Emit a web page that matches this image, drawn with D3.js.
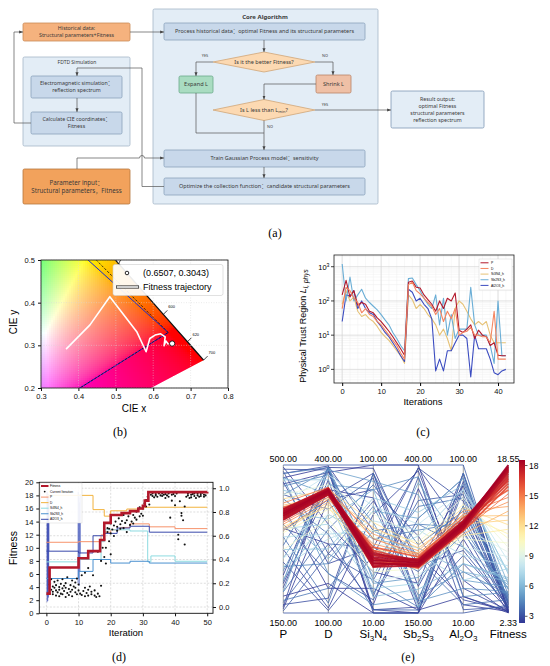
<!DOCTYPE html>
<html><head><meta charset="utf-8">
<script src="https://cdn.jsdelivr.net/npm/d3@7/dist/d3.min.js"></script>
<style>html,body{margin:0;padding:0;background:#fff;}svg{display:block;}</style>
</head><body>
<svg id="fig" width="550" height="666"></svg>
<script>
// ======================= DATA =======================
// (a) flowchart texts
const flowText = {
  hist: ["Historical data:", "Structural parameters+Fitness"],
  fdtd: ["FDTD Simulation"],
  em: ["Electromagnetic simulation：", "reflection spectrum"],
  cie: ["Calculate CIE coordinates：", "Fitness"],
  param: ["Parameter input：", "Structural parameters，Fitness"],
  core: ["Core Algorithm"],
  proc: ["Process historical data：optimal Fitness and its structural parameters"],
  dia1: ["Is it the better Fitness?"],
  expand: ["Expand L"],
  shrink: ["Shrink L"],
  train: ["Train Gaussian Process model：sensitivity"],
  opt: ["Optimize the collection function：candidate structural parameters"],
  result: ["Result output:", "optimal Fitness", "structural parameters", "reflection spectrum"]
};

// (b) CIE 1931 spectral locus [wavelength, x, y]
const spectralLocus = [
  [470,0.1241,0.0578],[480,0.0913,0.1327],[490,0.0454,0.2950],[500,0.0082,0.5384],[510,0.0139,0.7502],
  [520,0.0743,0.8338],[530,0.1547,0.8059],[540,0.2296,0.7543],[550,0.3016,0.6923],[560,0.3731,0.6245],
  [570,0.4441,0.5547],[575,0.4788,0.5202],[580,0.5125,0.4866],[585,0.5448,0.4544],[590,0.5752,0.4242],
  [595,0.6029,0.3965],[600,0.6270,0.3725],[605,0.6482,0.3514],[610,0.6658,0.3340],[615,0.6801,0.3197],
  [620,0.6915,0.3083],[630,0.7079,0.2920],[640,0.7190,0.2809],[650,0.7260,0.2740],[660,0.7300,0.2700],
  [700,0.7347,0.2653],[380,0.1741,0.0050],[400,0.1733,0.0048],[450,0.1566,0.0177]
];
const locusLabels = [600, 620, 700];
const gamutSRGB = [[0.64,0.33],[0.30,0.60],[0.15,0.06],[0.64,0.33]];
const gamutAdobe = [[0.64,0.33],[0.21,0.71],[0.15,0.06],[0.64,0.33]];
const trajX = [0.367,0.431,0.484,0.556,0.581,0.591,0.605,0.620,0.632,0.629,0.634,0.641];
const trajY = [0.291,0.348,0.414,0.332,0.285,0.316,0.324,0.327,0.320,0.299,0.310,0.302];
const bestPoint = [0.6507, 0.3043];
const startMarker = [0.507, 0.503];
const cieXTicks = [0.3,0.4,0.5,0.6,0.7,0.8];
const cieYTicks = [0.2,0.3,0.4,0.5];

// (c) physical trust region per iteration 0..42
const trustNames = ["P","D","Si3N4_h","Sb2S3_h","Al2O3_h"];
const trustP  = [150,400,130,200,75,90,80,50,45,32,25,18,13,9,6,4,2.6,350,380,250,240,150,110,80,50,100,60,120,100,170,14,12,15,20,8,14,10,9,5,6,2.6,2.5,2.5];
const trustD  = [60,250,200,120,90,45,60,40,35,25,20,14,10,7,5,3,2,300,350,200,160,120,90,70,40,60,25,50,30,60,10,12,13,17,10,10,9,9,6,50,2,2,2];
const trustSi = [80,200,100,130,50,35,40,30,25,18,12,9,7,5,3.5,2.5,1.5,150,110,60,80,60,40,30,20,10,15,8,3.5,60,100,80,50,30,20,25,20,25,10,6,6,6,6];
const trustSb = [1200,100,500,100,150,220,120,90,70,55,40,28,20,12,8,5,3.5,450,470,300,200,120,80,60,150,20,120,10,40,8,15,15,15,250,20,10,10,10,5,1.5,100,2.5,2.5];
const trustAl = [25,150,140,200,60,100,60,45,40,25,18,12,9,6,4,2.5,1.7,220,180,100,120,80,60,30,0.9,2,0.9,3.5,3.5,6,10,10,8,0.6,10,4,4,4,2,0.8,0.7,0.9,1.0];
const trustXTicks = [0,10,20,30,40];
const trustYTicks = [1,10,100,1000];

// (d) best fitness (step change points [iteration, fitness])
const bestFitness = [[0,3.0],[1,7.0],[10,8.4],[13,9.5],[16.7,11.2],[18,13.8],[20,15.0],[23.4,15.3],[26,15.6],[28.6,16.0],[30,16.4],[30.6,17.2],[31.7,18.5],[50,18.55]];
// normalized parameters (step change points [iteration, value])
const normP  = [[0,0.545],[10,0.55],[17,0.607],[18,0.63],[20,0.65],[23,0.67],[26,0.70],[32,0.675],[40,0.66],[50,0.66]];
const normD  = [[0,0.94],[14.5,0.82],[18,0.765],[20,0.81],[25,0.825],[30,0.84],[50,0.84]];
const normSi = [[0,0.38],[10,0.40],[17,0.55],[18,0.65],[26,0.64],[31.5,0.38],[32.5,0.43],[40,0.385],[50,0.385]];
const normSb = [[0,0.24],[10,0.30],[14.5,0.40],[20,0.37],[26,0.385],[32,0.37],[50,0.37]];
const normAl = [[0,0.47],[10,0.455],[14.5,0.60],[18,0.62],[22,0.665],[26,0.68],[32,0.63],[50,0.63]];
const initSweepA = [[0.2,0.04],[0.25,0.97],[0.3,0.1],[0.35,0.92],[0.4,0.05],[0.45,0.88],[0.5,0.15],[0.55,0.95],[0.6,0.08],[0.65,0.85],[0.7,0.2],[0.75,0.9],[0.8,0.47]];
const initSweepB = [[9.8,0.2],[9.9,0.97],[10.0,0.25],[10.1,0.92],[10.2,0.18],[10.3,0.88],[10.4,0.3],[10.5,0.95],[10.6,0.45]];
const currentIter = [
 [1,4.4],[1,3.0],[1.5,5.2],[1.5,3.6],[2,4.1],[2,3.3],[2,2.9],[2.5,4.8],[2.5,3.9],[3,3.5],[3,4.3],[3,2.7],[3.5,5.0],[3.5,3.2],[4,4.0],[4,3.6],[4,2.6],[4.5,4.5],[4.5,3.0],[5,3.8],[5,2.9],[5,5.2],[5.5,3.4],[5.5,4.2],[6,2.5],[6,3.9],[6,4.6],[6.5,3.1],[6.5,5.5],[7,3.7],[7,2.8],[7.5,4.3],[7.5,3.3],[8,5.0],[8,3.6],[8,2.6],[8.5,4.1],[9,3.2],[9,4.7],[9,3.9],[9.5,5.3],[9.5,2.9],[10,4.4],[10,3.5],
 [10.5,3.0],[11,5.8],[11,2.8],[11.5,3.4],[12,6.2],[12,2.6],[12,3.9],[12.5,3.1],[13,6.9],[13,3.6],[13,2.7],[13.5,4.1],[14,2.9],[14,3.3],[14.5,5.8],[15,2.7],[15,3.5],[15.5,2.5],[16,3.0],[16,9.4],[16.5,2.6],[17,4.2],[17,8.0],
 [17.5,10.0],[18,11.3],[18,8.6],[18,12.5],[18.5,10.0],[18.5,7.6],[19,12.4],[19,13.0],[19.5,11.0],[19.5,12.9],[20,12.2],[20,9.0],[20,13.7],[20.5,12.8],[21,13.4],[21,11.8],
 [21.5,14.0],[22,13.2],[22,12.6],[22.5,14.5],[23,13.6],[23,12.9],[23.5,14.1],[24,13.0],[24,15.0],[24.5,13.8],[25,14.2],[25,12.4],[25.5,14.8],[26,13.5],[26,15.4],[26.5,14.0],[27,15.0],[27,13.7],[27.5,14.6],[28,15.5],[28,14.3],[28.5,15.9],[29,14.8],[29,16.2],[29.5,15.2],[30,16.0],[30,14.9],[30.5,16.8],[31,16.3],[31,17.3],[31.5,17.8],[32,16.6],
 [32.5,18.1],[33,17.9],[33,18.3],[33.5,17.7],[34,18.2],[34,18.0],[34.5,17.8],[35,18.3],[35.5,18.0],[36,17.9],[36,18.3],[36.5,18.1],[37,17.6],[37,18.2],[37.5,18.0],[38,18.3],[38,17.8],[38.5,14.6],[39,18.1],[39,17.2],[39.5,18.2],[40,17.9],[40,16.5],[40.5,18.3],[41,12.0],[41,11.3],[41.5,17.1],[42,15.3],[42,14.9],[42.5,14.2],[43,16.3],[43,10.5],[43.5,17.8],[44,18.0],[44,18.3],[44.5,17.6],[45,18.1],[45,17.7],[45.5,18.2],[46,17.9],[46,18.3],[46.5,17.6],[47,18.0],[47,18.3],[47.5,17.8],[48,18.2],[48,17.9],[48.5,18.4],[49,17.8],[49,18.1],[49.5,18.0]
];
const fitXTicks = [0,10,20,30,40,50];
const fitYTicks = [0,2,4,6,8,10,12,14,16,18,20];
const normTicks = [0,0.2,0.4,0.6,0.8,1.0];
const fitLegend = ["Fitness","Current Iteration","P","D","Si3N4_h","Sb2S3_h","Al2O3_h"];

// (e) parallel coordinates rows: P, D, Si3N4, Sb2S3, Al2O3, Fitness
const pcDims = ["P","D","Si3N4","Sb2S3","Al2O3","Fitness"];
const pcMin = [150,100,10,150,10,2.33];
const pcMax = [500,400,100,400,100,18.55];
const pcRows = [
 [385,348,42,235,64,18.55],[380,345,40,232,63,18.4],[390,350,44,238,65,18.3],[375,342,38,230,62,18.2],
 [395,352,46,240,66,18.1],[370,340,41,228,61,18.0],[388,347,43,236,64,17.9],[382,344,39,233,62,17.8],
 [392,349,45,239,65,17.6],[378,343,47,231,63,17.4],[386,346,40,234,64,17.2],[372,341,43,229,61,17.0],
 [396,353,38,242,66,16.8],[384,347,48,237,63,16.5],[379,344,42,226,60,16.2],
 [400,340,50,245,68,15.8],[365,335,45,240,60,15.4],[410,355,55,250,70,15.0],[360,330,52,248,66,14.5],
 [395,345,58,255,72,14.0],[350,325,40,235,58,13.5],[405,338,62,260,69,13.0],[345,320,48,252,64,12.5],
 [420,350,65,265,74,12.0],[355,315,38,230,57,11.5],[390,332,56,243,70,11.0],
 [340,310,60,270,76,10.5],[300,290,35,225,55,10.0],[430,360,70,280,80,9.5],[320,300,52,260,62,9.0],
 [280,270,30,215,50,8.5],[410,380,75,300,85,8.0],
 [260,250,66,290,45,7.5],[350,280,25,200,70,7.0],[300,230,80,320,88,6.6],[440,330,20,190,40,6.2],
 [230,300,55,260,35,5.8],[380,210,72,310,92,5.5],
 [200,390,90,350,30,5.2],[470,180,15,175,75,4.9],[250,360,85,380,20,4.6],[480,395,30,160,95,4.3],
 [180,150,60,300,50,4.0],[330,120,95,240,15,3.8],[420,260,12,155,85,3.6],
 [500,400,100,400,100,3.4],[150,100,10,150,10,3.2],[490,390,20,380,12,3.0],[170,130,95,170,90,2.9],
 [460,200,50,395,60,2.8],[210,370,12,160,40,2.7],[300,110,70,390,25,2.6],[495,280,35,200,95,2.55],
 [160,330,85,280,15,2.5],[400,150,25,155,70,2.45],[240,395,98,230,88,2.4],[350,240,15,360,30,2.36],
 [190,160,10,150,55,2.33],[480,398,60,250,18,2.6],[270,105,45,395,78,2.9],[430,310,92,165,45,3.1],
 [155,220,30,340,82,3.3],[220,350,80,155,20,2.5],
 [450,380,55,290,65,4.1],[310,395,40,330,80,3.9],[260,200,75,180,35,4.4],[470,340,28,210,58,5.0],
 [200,270,88,265,72,3.7],[360,180,18,310,92,3.2],[430,390,65,170,25,4.7],[280,350,32,370,50,5.4],
 [175,240,50,220,66,3.5],[390,290,85,160,40,6.0],[465,370,45,280,85,6.8],[330,260,60,250,30,7.2],
 [225,395,22,300,62,4.2],[485,220,78,230,48,3.0],[345,330,95,195,75,2.7],
 [470,395,12,150,95,2.4],[455,385,100,400,20,2.35],[165,390,10,150,88,2.6]
];
const cbTicks = [3,6,9,12,15,18];

// ======================= DRAWING =======================
const svg = d3.select("#fig");
const SANS = "'Liberation Sans', Arial, Helvetica, sans-serif";
const FLOW = "'Noto Sans', 'Open Sans', 'Noto Sans CJK SC', sans-serif";
const SERIF = "'Liberation Serif', 'Times New Roman', serif";
const defs = svg.append("defs");
defs.append("marker").attr("id","arr").attr("viewBox","0 0 10 10").attr("refX",10).attr("refY",5)
  .attr("markerWidth",5.5).attr("markerHeight",5.5).attr("orient","auto")
  .append("path").attr("d","M0,1L10,5L0,9z").attr("fill","#444");

// ---------- (a) flowchart ----------
const gA = svg.append("g").attr("font-family", FLOW).attr("fill","#3a3a3a");
const FL = {hist:[23,23,107,18], fdtd:[23,57,107,89], em:[31,76,91,22], cie:[31,112,91,22], param:[23,169,107,35],
  core:[153,9,225,195], proc:[164,23,201,17], expand:[179,76,34,17], shrink:[316,75,35,18],
  train:[164,150,201,17], opt:[164,178,201,17], result:[391,91,93,37]};
const ST = {orange:["#f5b27e","#c98a57"], orangeD:["#f2a25c","#b5763c"], panel:["#e3edf6","#a4b6c8"],
  inner:["#c8d8ea","#8aa2bb"], green:["#a9dcc1","#6aa98a"], salmon:["#efc0a6","#b98468"], diamond:["#fcd9b2","#d1a677"],
  result:["#e3edf6","#7f98b5"]};
function drawBox(k, s){ const [x,y,w,h]=FL[k];
  gA.append("rect").attr("x",x).attr("y",y).attr("width",w).attr("height",h).attr("rx",1.5)
    .attr("fill",ST[s][0]).attr("stroke",ST[s][1]).attr("stroke-width",0.8); }
function drawText(k, size, cxOverride, cyOverride){ const [x,y,w,h]=FL[k]||[0,0,0,0];
  const lines = flowText[k]; const lh = size*1.3;
  const cx = cxOverride!==undefined?cxOverride:x+w/2, cy = cyOverride!==undefined?cyOverride:y+h/2;
  lines.forEach((t,i)=>{ gA.append("text").attr("x",cx).attr("y",cy+(i-(lines.length-1)/2)*lh+size*0.35)
    .attr("text-anchor","middle").attr("font-size",size).text(t); }); }
drawBox("core","panel"); drawBox("fdtd","panel");
drawBox("hist","orange"); drawBox("param","orangeD");
["em","cie","proc","train","opt"].forEach(k=>drawBox(k,"inner"));
drawBox("expand","green"); drawBox("shrink","salmon"); drawBox("result","result");
function diamond(cx,cy,hw,hh){ gA.append("path").attr("d",`M${cx-hw},${cy}L${cx},${cy-hh}L${cx+hw},${cy}L${cx},${cy+hh}Z`)
  .attr("fill",ST.diamond[0]).attr("stroke",ST.diamond[1]).attr("stroke-width",0.8); }
diamond(264,62,51,10); diamond(264,110,51,10.5);
drawText("hist",5.3); drawText("em",5.3); drawText("cie",5.3); drawText("param",6.2);
drawText("proc",5.5); drawText("train",5.5); drawText("opt",5.5); drawText("expand",5.6); drawText("shrink",5.6);
drawText("result",5.3);
drawText("dia1",5.6,264,62);
gA.append("text").attr("x",77).attr("y",63.5).attr("text-anchor","middle").attr("font-size",5).text(flowText.fdtd[0]);
gA.append("text").attr("x",265).attr("y",18.5).attr("text-anchor","middle").attr("font-size",6).attr("font-weight","bold").text(flowText.core[0]);
const d2 = gA.append("text").attr("x",264).attr("y",112).attr("text-anchor","middle").attr("font-size",5.6);
d2.append("tspan").text("Is L less than L"); d2.append("tspan").attr("font-size",4).attr("dy",1.3).text("min");
d2.append("tspan").attr("dy",-1.3).text("?");
const arrowPaths = [
  ["M130,32H164",true],["M31,123H14V32H23",true],["M164,186.5H142V68H77V76",true],["M77,98V112",true],
  ["M77,169V158H139.5A2.5,2.5 0 0 1 144.5,158H164",true],["M264,40V52",true],["M213,62H196V76",true],
  ["M315,62H333V75",true],["M316,84H264V99.5",true],["M315,110H391",true],["M264,120.5V150",true],
  ["M196,93V133H264",false],["M264,167V178",true]];
arrowPaths.forEach(([d,a])=>{ const p=gA.append("path").attr("d",d).attr("fill","none").attr("stroke","#555").attr("stroke-width",0.7);
  if(a) p.attr("marker-end","url(#arr)"); });
[["YES",205,57],["NO",325,57],["YES",325,106],["NO",270,127.5]].forEach(([t,x,y])=>
  gA.append("text").attr("x",x).attr("y",y).attr("font-size",3.8).attr("text-anchor","middle").text(t));
svg.append("text").attr("x",275).attr("y",237).attr("text-anchor","middle").attr("font-family",SERIF).attr("font-size",12).text("(a)");

// ---------- (b) CIE chromaticity ----------
const bX = d3.scaleLinear([0.3,0.8],[41,228]);
const bY = d3.scaleLinear([0.2,0.5],[388,260]);
const gB = svg.append("g").attr("font-family",SANS);
defs.append("clipPath").attr("id","clipB").append("rect").attr("x",41).attr("y",260).attr("width",187).attr("height",128);
const locusPoly = spectralLocus.map(d=>[d[1],d[2]]);
defs.append("clipPath").attr("id","clipLocus").append("path")
  .attr("d","M"+locusPoly.map(p=>[bX(p[0]),bY(p[1])].join(",")).join("L")+"Z");
function xyToColor(x,y){ const X=x/y, Y=1, Z=(1-x-y)/y;
  let r=3.2406*X-1.5372*Y-0.4986*Z, g=-0.9689*X+1.8758*Y+0.0415*Z, b=0.0557*X-0.2040*Y+1.0570*Z;
  r=Math.max(r,0); g=Math.max(g,0); b=Math.max(b,0); const m=Math.max(r,g,b);
  const gm=c=>{c/=m; return Math.round(255*(c<=0.0031308?12.92*c:1.055*Math.pow(c,1/2.4)-0.055));};
  return `rgb(${gm(r)},${gm(g)},${gm(b)})`; }
const cells=[]; const step=2;
for(let px=41; px<228; px+=step) for(let py=260; py<388; py+=step){
  const x=bX.invert(px+step/2), y=bY.invert(py+step/2);
  if(d3.polygonContains(locusPoly,[x,y]) || d3.polygonContains(locusPoly,[bX.invert(px-3),bY.invert(py+5)]) || d3.polygonContains(locusPoly,[bX.invert(px-5),bY.invert(py+3)]))
    cells.push({x:bX.invert(px), y:bY.invert(py), c:xyToColor(Math.min(x,0.735),Math.max(y,0.2))}); }
const gBc = gB.append("g").attr("clip-path","url(#clipB)");
gBc.append("g").attr("clip-path","url(#clipLocus)").selectAll("rect.cell").data(cells).join("rect").attr("x",d=>bX(d.x)).attr("y",d=>bY(d.y))
  .attr("width",step+0.3).attr("height",step+0.3).attr("fill",d=>d.c).attr("shape-rendering","crispEdges");
// grid
gB.selectAll(".gx").data(cieXTicks).join("line").attr("x1",d=>bX(d)).attr("x2",d=>bX(d)).attr("y1",260).attr("y2",388)
  .attr("stroke","#d6d6d6").attr("stroke-width",0.5).attr("stroke-dasharray","1,1.5");
gB.selectAll(".gy").data(cieYTicks).join("line").attr("y1",d=>bY(d)).attr("y2",d=>bY(d)).attr("x1",41).attr("x2",228)
  .attr("stroke","#d6d6d6").attr("stroke-width",0.5).attr("stroke-dasharray","1,1.5");
const lineB = d3.line().x(d=>bX(d[0])).y(d=>bY(d[1]));
const idx700 = spectralLocus.findIndex(d=>d[0]===700);
gBc.append("path").attr("d",lineB(spectralLocus.slice(0,idx700+1).map(d=>[d[1],d[2]]))).attr("fill","none").attr("stroke","#111").attr("stroke-width",1.3);
gBc.append("path").attr("d",lineB(gamutSRGB)).attr("fill","none").attr("stroke","#1a2bd6").attr("stroke-width",1);
gBc.append("path").attr("d",lineB(gamutAdobe)).attr("fill","none").attr("stroke","#111").attr("stroke-width",0.8).attr("stroke-dasharray","2.5,1.5");
gBc.append("path").attr("d",lineB(d3.zip(trajX,trajY))).attr("fill","none").attr("stroke","#fff").attr("stroke-width",1.6).attr("stroke-linejoin","round");
gBc.append("path").attr("d",d3.symbol(d3.symbolDiamond,30)()).attr("transform",`translate(${bX(startMarker[0])},${bY(startMarker[1])})`)
  .attr("fill","#fff").attr("stroke","#111").attr("stroke-width",0.8);
gBc.append("circle").attr("cx",bX(bestPoint[0])).attr("cy",bY(bestPoint[1])).attr("r",2.6).attr("fill","#fff").attr("stroke","#111").attr("stroke-width",0.9);
locusLabels.forEach(w=>{ const p=spectralLocus.find(d=>d[0]===w); const px=bX(p[1]), py=bY(p[2]);
  gB.append("line").attr("x1",px).attr("y1",py).attr("x2",px+4).attr("y2",py-4).attr("stroke","#111").attr("stroke-width",0.8);
  gB.append("text").attr("x",px+5).attr("y",py-6).attr("font-size",4).text(w); });
gB.append("rect").attr("x",41).attr("y",260).attr("width",187).attr("height",128).attr("fill","none").attr("stroke","#111").attr("stroke-width",0.8);
const axBX = gB.append("g").attr("transform","translate(0,388)").call(d3.axisBottom(bX).tickValues(cieXTicks).tickFormat(d3.format(".1f")).tickSize(3).tickSizeOuter(0));
const axBY = gB.append("g").attr("transform","translate(41,0)").call(d3.axisLeft(bY).tickValues(cieYTicks).tickFormat(d3.format(".1f")).tickSize(3).tickSizeOuter(0));
[axBX,axBY].forEach(a=>{a.select(".domain").remove(); a.selectAll("text").attr("font-size",7.5).attr("font-family",SANS).attr("fill","#111"); a.selectAll("line").attr("stroke","#111");});
gB.append("text").attr("x",134).attr("y",412).attr("text-anchor","middle").attr("font-size",10).text("CIE x");
gB.append("text").attr("transform","translate(17,322) rotate(-90)").attr("text-anchor","middle").attr("font-size",10).text("CIE y");
// legend
const lgB = gB.append("g");
lgB.append("rect").attr("x",113).attr("y",264.5).attr("width",110).attr("height",31).attr("rx",2).attr("fill","#fff").attr("fill-opacity",0.92).attr("stroke","#ccc").attr("stroke-width",0.6);
lgB.append("circle").attr("cx",127).attr("cy",273).attr("r",1.8).attr("fill","#fff").attr("stroke","#111").attr("stroke-width",0.9);
lgB.append("text").attr("x",143).attr("y",276.3).attr("font-size",9).text(`(${bestPoint[0].toFixed(4)}, ${bestPoint[1].toFixed(4)})`);
lgB.append("line").attr("x1",116).attr("x2",139).attr("y1",287).attr("y2",287).attr("stroke","#111").attr("stroke-width",3);
lgB.append("line").attr("x1",116.6).attr("x2",138.4).attr("y1",287).attr("y2",287).attr("stroke","#fff").attr("stroke-width",1.6);
lgB.append("text").attr("x",143).attr("y",290.3).attr("font-size",9).text("Fitness trajectory");
svg.append("text").attr("x",120).attr("y",436).attr("text-anchor","middle").attr("font-family",SERIF).attr("font-size",12).text("(b)");

// ---------- (c) physical trust region ----------
const cX = d3.scaleLinear([-2.1,44.1],[334,514]);
const cY = d3.scaleLog([0.4,2200],[383,255]);
const gC = svg.append("g").attr("font-family",SANS);
defs.append("clipPath").attr("id","clipC").append("rect").attr("x",334).attr("y",255).attr("width",180).attr("height",128);
const minorY=[]; [0.1,1,10,100,1000].forEach(b=>{for(let k=2;k<10;k++){const v=b*k; if(v>0.4&&v<2200) minorY.push(v);}});
gC.selectAll(".mgy").data(minorY).join("line").attr("x1",334).attr("x2",514).attr("y1",d=>cY(d)).attr("y2",d=>cY(d)).attr("stroke","#eeeeee").attr("stroke-width",0.5);
gC.selectAll(".mgx").data(d3.range(-2,45,2)).join("line").attr("y1",255).attr("y2",383).attr("x1",d=>cX(d)).attr("x2",d=>cX(d)).attr("stroke","#f0f0f0").attr("stroke-width",0.5);
gC.selectAll(".gy").data(trustYTicks).join("line").attr("x1",334).attr("x2",514).attr("y1",d=>cY(d)).attr("y2",d=>cY(d)).attr("stroke","#d4d4d4").attr("stroke-width",0.7);
gC.selectAll(".gx").data(trustXTicks).join("line").attr("y1",255).attr("y2",383).attr("x1",d=>cX(d)).attr("x2",d=>cX(d)).attr("stroke","#d4d4d4").attr("stroke-width",0.7);
const trustSeries = [trustP,trustD,trustSi,trustSb,trustAl];
const trustColors = ["#b2182b","#f4845f","#e6c276","#6aaed6","#3b4cc0"];
const lineC = d3.line().x((d,i)=>cX(i)).y(d=>cY(d));
const gCl = gC.append("g").attr("clip-path","url(#clipC)");
[2,4,3,0,1].forEach(k=>{ gCl.append("path").attr("d",lineC(trustSeries[k])).attr("fill","none").attr("stroke",trustColors[k]).attr("stroke-width",1.1).attr("stroke-linejoin","round"); });
gC.append("rect").attr("x",334).attr("y",255).attr("width",180).attr("height",128).attr("fill","none").attr("stroke","#222").attr("stroke-width",0.8);
const axCX = gC.append("g").attr("transform","translate(0,383)").call(d3.axisBottom(cX).tickValues(trustXTicks).tickSize(3).tickSizeOuter(0));
axCX.select(".domain").remove(); axCX.selectAll("text").attr("font-size",7.5).attr("font-family",SANS).attr("fill","#111");
gC.selectAll(".ytk").data(trustYTicks).join("line").attr("x1",331).attr("x2",334).attr("y1",d=>cY(d)).attr("y2",d=>cY(d)).attr("stroke","#111").attr("stroke-width",0.8);
gC.selectAll(".ytl").data(trustYTicks).join("text").attr("x",329.5).attr("y",d=>cY(d)+3).attr("text-anchor","end").attr("font-size",7.5)
  .each(function(d){ const t=d3.select(this); t.append("tspan").text("10"); t.append("tspan").attr("dy",-3).attr("font-size",5.2).text(Math.round(Math.log10(d))); });
gC.append("text").attr("x",423).attr("y",405).attr("text-anchor","middle").attr("font-size",9.5).text("Iterations");
const ylc = gC.append("text").attr("transform","translate(306,326) rotate(-90)").attr("text-anchor","middle").attr("font-size",9);
ylc.append("tspan").text("Physical Trust Region ");
ylc.append("tspan").attr("font-style","italic").text("L");
ylc.append("tspan").attr("font-style","italic").attr("font-size",6.5).attr("dy",2).text("l, phys");
const lgC = gC.append("g");
lgC.append("rect").attr("x",479).attr("y",259).attr("width",33).attr("height",31).attr("fill","#fff").attr("stroke","#ccc").attr("stroke-width",0.4);
trustNames.forEach((n,i)=>{ const y=262.8+i*5.65;
  lgC.append("line").attr("x1",480.5).attr("x2",488.5).attr("y1",y).attr("y2",y).attr("stroke",trustColors[i]).attr("stroke-width",1);
  lgC.append("text").attr("x",491).attr("y",y+1.2).attr("font-size",3.4).text(n); });
svg.append("text").attr("x",423).attr("y",436).attr("text-anchor","middle").attr("font-family",SERIF).attr("font-size",12).text("(c)");

// ---------- (d) fitness history ----------
const dX = d3.scaleLinear([-2.2,51.8],[39.3,213]);
const dYL = d3.scaleLinear([0,20],[613.3,482.3]);
const dYR = d3.scaleLinear([-0.053,1.05],[613.3,482.3]);
const gD = svg.append("g").attr("font-family",SANS);
gD.selectAll(".gx").data(fitXTicks).join("line").attr("x1",d=>dX(d)).attr("x2",d=>dX(d)).attr("y1",482.3).attr("y2",613.3)
  .attr("stroke","#bdbdbd").attr("stroke-width",0.5).attr("stroke-dasharray","2,1.5");
gD.selectAll(".gy").data(normTicks).join("line").attr("y1",d=>dYR(d)).attr("y2",d=>dYR(d)).attr("x1",39.3).attr("x2",213)
  .attr("stroke","#bdbdbd").attr("stroke-width",0.5).attr("stroke-dasharray","2,1.5");
const stepR = d3.line().x(d=>dX(d[0])).y(d=>dYR(d[1])).curve(d3.curveStepAfter);
const plainR = d3.line().x(d=>dX(d[0])).y(d=>dYR(d[1]));
gD.append("path").attr("d",plainR(initSweepA)).attr("fill","none").attr("stroke","#4756b8").attr("stroke-width",0.6);
gD.append("path").attr("d",plainR(initSweepB)).attr("fill","none").attr("stroke","#5a6cc4").attr("stroke-width",0.6);
const normSeries = [normP,normD,normSi,normSb,normAl];
const normColors = ["#f7936b","#f2b33d","#8ddbe0","#4a90cf","#3949ab"];
normSeries.forEach((s,i)=>gD.append("path").attr("d",stepR(s)).attr("fill","none").attr("stroke",normColors[i]).attr("stroke-width",1));
gD.selectAll(".dot").data(currentIter).join("circle").attr("cx",d=>dX(d[0])).attr("cy",d=>dYL(d[1])).attr("r",1.05).attr("fill","#111");
const stepL = d3.line().x(d=>dX(d[0])).y(d=>dYL(d[1])).curve(d3.curveStepAfter);
gD.append("path").attr("d",stepL(bestFitness)).attr("fill","none").attr("stroke","#b2182b").attr("stroke-width",2.6);
gD.append("rect").attr("x",39.3).attr("y",482.3).attr("width",173.7).attr("height",131).attr("fill","none").attr("stroke","#111").attr("stroke-width",0.9);
const axDX = gD.append("g").attr("transform","translate(0,613.3)").call(d3.axisBottom(dX).tickValues(fitXTicks).tickSize(3).tickSizeOuter(0));
const axDL = gD.append("g").attr("transform","translate(39.3,0)").call(d3.axisLeft(dYL).tickValues(fitYTicks).tickSize(3).tickSizeOuter(0));
const axDR = gD.append("g").attr("transform","translate(213,0)").call(d3.axisRight(dYR).tickValues(normTicks).tickFormat(d3.format(".1f")).tickSize(3).tickSizeOuter(0));
[axDX,axDL,axDR].forEach(a=>{a.select(".domain").remove(); a.selectAll("text").attr("font-size",7.5).attr("font-family",SANS).attr("fill","#111"); a.selectAll("line").attr("stroke","#111");});
gD.append("text").attr("x",126).attr("y",636).attr("text-anchor","middle").attr("font-size",9.5).text("Iteration");
gD.append("text").attr("transform","translate(17,548) rotate(-90)").attr("text-anchor","middle").attr("font-size",10.5).text("Fitness");
const lgD = gD.append("g");
lgD.append("rect").attr("x",40).attr("y",483).attr("width",42).attr("height",40).attr("fill","#fff").attr("fill-opacity",0.9).attr("stroke","#ccc").attr("stroke-width",0.4);
fitLegend.forEach((n,i)=>{ const y=486+i*5.55;
  if(i===0) lgD.append("line").attr("x1",41).attr("x2",48.5).attr("y1",y).attr("y2",y).attr("stroke","#b2182b").attr("stroke-width",2);
  else if(i===1) lgD.append("circle").attr("cx",44.7).attr("cy",y).attr("r",0.9).attr("fill","#111");
  else lgD.append("line").attr("x1",41).attr("x2",48.5).attr("y1",y).attr("y2",y).attr("stroke",normColors[i-2]).attr("stroke-width",1);
  lgD.append("text").attr("x",50).attr("y",y+1.1).attr("font-size",3.2).text(n); });
svg.append("text").attr("x",119).attr("y",661).attr("text-anchor","middle").attr("font-family",SERIF).attr("font-size",12).text("(d)");

// ---------- (e) parallel coordinates ----------
const gE = svg.append("g").attr("font-family",SANS);
const eX = d3.scalePoint(pcDims,[283.3,508.3]);
const eY = pcDims.map((d,i)=>d3.scaleLinear([pcMin[i],pcMax[i]],[613,465]));
const fitIdx = 5;
const colorE = f => d3.interpolateRdYlBu(1-(f-pcMin[fitIdx])/(pcMax[fitIdx]-pcMin[fitIdx]));
gE.selectAll(".ax").data(pcDims).join("line").attr("x1",d=>eX(d)).attr("x2",d=>eX(d)).attr("y1",465).attr("y2",613).attr("stroke","#999").attr("stroke-width",0.9);
const lineE = d3.line().x((v,i)=>eX(pcDims[i])).y((v,i)=>eY[i](v));
const sorted = pcRows.slice().sort((a,b)=>a[fitIdx]-b[fitIdx]);
gE.selectAll(".pl").data(sorted).join("path").attr("d",d=>lineE(d)).attr("fill","none")
  .attr("stroke",d=>colorE(d[fitIdx])).attr("stroke-width",d=>d[fitIdx]>15.5?1.8:0.9).attr("stroke-opacity",0.9);
gE.selectAll(".tl").data(pcDims).join("text").attr("x",d=>eX(d)).attr("y",462).attr("text-anchor","middle").attr("font-size",9)
  .text((d,i)=>pcMax[i].toFixed(2));
gE.selectAll(".bl").data(pcDims).join("text").attr("x",d=>eX(d)).attr("y",626).attr("text-anchor","middle").attr("font-size",9)
  .text((d,i)=>pcMin[i].toFixed(2));
pcDims.forEach(n=>{ const t=gE.append("text").attr("x",eX(n)).attr("y",637.5).attr("text-anchor","middle").attr("font-size",11.5);
  let off=0; n.split(/(\d+)/).filter(p=>p).forEach(p=>{ if(/^\d+$/.test(p)){ t.append("tspan").attr("font-size",8).attr("dy",3-off).text(p); off=3; }
    else { t.append("tspan").attr("dy",-off).text(p); off=0; } }); });
const grad = defs.append("linearGradient").attr("id","cbGrad").attr("x1",0).attr("x2",0).attr("y1",1).attr("y2",0);
d3.range(0,1.0001,0.05).forEach(t=>grad.append("stop").attr("offset",t).attr("stop-color",d3.interpolateRdYlBu(1-t)));
const cbY = d3.scaleLinear([pcMin[fitIdx],pcMax[fitIdx]],[623,460]);
gE.append("rect").attr("x",519).attr("y",460).attr("width",6).attr("height",163).attr("fill","url(#cbGrad)");
gE.selectAll(".cbt").data(cbTicks).join("line").attr("x1",525).attr("x2",527.5).attr("y1",d=>cbY(d)).attr("y2",d=>cbY(d)).attr("stroke","#111").attr("stroke-width",0.7);
gE.selectAll(".cbl").data(cbTicks).join("text").attr("x",529).attr("y",d=>cbY(d)+3).attr("font-size",8.5).text(d=>d);
svg.append("text").attr("x",408).attr("y",661).attr("text-anchor","middle").attr("font-family",SERIF).attr("font-size",12).text("(e)");
</script>
</body></html>
